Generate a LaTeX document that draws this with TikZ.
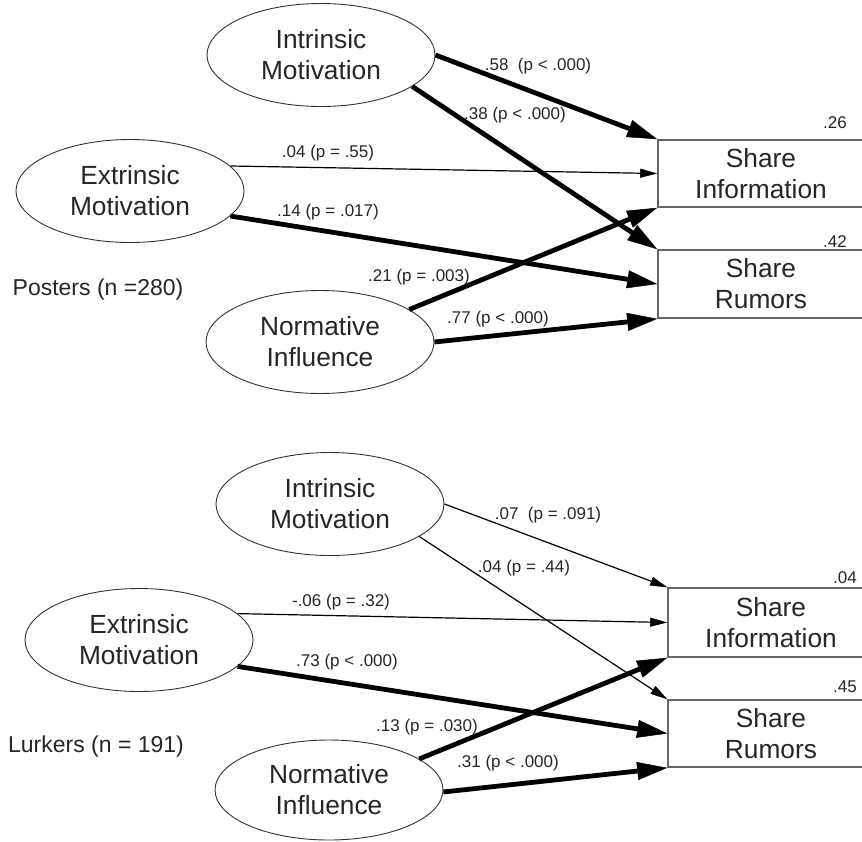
\documentclass[tikz,border=0pt]{standalone}
\usepackage{fontspec}
\setmainfont{Liberation Sans}
\usetikzlibrary{arrows.meta,shapes.geometric}
\begin{document}
\begin{tikzpicture}[x=1pt,y=-1pt,
  latent/.style={ellipse,draw=black!80,line width=0.9pt,text=black!85,align=center,
    font=\fontsize{26.3}{31}\selectfont,inner sep=0pt,minimum width=228pt,minimum height=103pt},
  obs/.style={rectangle,draw=black!60,line width=1.6pt,text=black!85,align=center,
    font=\fontsize{26.3}{31}\selectfont,minimum width=206pt,inner sep=0pt},
  lbl/.style={text=black!85,font=\fontsize{17}{19}\selectfont,inner sep=0pt},
  grp/.style={text=black!85,font=\fontsize{23}{26}\selectfont,inner sep=0pt},
  strong/.style={line width=4.8pt,-{Triangle[length=30pt,width=18pt,line width=0.5pt]}},
  weak/.style={line width=1.2pt,-{Triangle[length=17pt,width=9pt,line width=0.5pt]}},
]
\useasboundingbox (0,0) rectangle (862,841);
\fill[white] (0,0) rectangle (862,841);

% ---------- Posters ----------
\node[latent] (i1) at (321,55) {Intrinsic\\Motivation};
\node[latent] (e1) at (130,191) {Extrinsic\\Motivation};
\node[latent] (n1) at (320,342) {Normative\\Influence};
\node[obs,minimum height=67pt] (si1) at (761,173.5) {Share\\Information};
\node[obs,minimum height=68pt] (sr1) at (761,284) {Share\\Rumors};

\draw[strong] (i1.0) -- (si1.north west);
\draw[strong] (i1.-19) -- (sr1.north west);
\draw[weak] (e1.14) -- (si1.west);
\draw[strong] (e1.-14) -- (sr1.west);
\draw[strong] (n1.20) -- (si1.south west);
\draw[strong] (n1.0) -- (sr1.south west);

\node[lbl] (l11) at (538,66) {.58~~(p < .000)};
\node[lbl] (l12) at (515,115) {.38 (p < .000)};
\node[lbl] (l13) at (328,153) {.04 (p = .55)};
\node[lbl] (l14) at (328,212) {.14 (p = .017)};
\node[lbl] (l15) at (419,277) {.21 (p = .003)};
\node[lbl] (l16) at (498,319) {.77 (p < .000)};
\node[lbl] (r11) at (835,123) {.26};
\node[lbl] (r12) at (835,242) {.42};
\node[grp] (g1) at (98,290) {Posters (n =280)};

% ---------- Lurkers ----------
\node[latent] (i2) at (330,504) {Intrinsic\\Motivation};
\node[latent] (e2) at (139,640) {Extrinsic\\Motivation};
\node[latent,minimum height=100pt] (n2) at (329,790) {Normative\\Influence};
\node[obs,minimum height=69pt] (si2) at (771,622.5) {Share\\Information};
\node[obs,minimum height=67pt] (sr2) at (771,733.5) {Share\\Rumors};

\draw[weak] (i2.0) -- (si2.north west);
\draw[weak] (i2.-20) -- (sr2.north west);
\draw[weak] (e2.15) -- (si2.west);
\draw[strong] (e2.-15) -- (sr2.west);
\draw[strong] (n2.19) -- (si2.south west);
\draw[strong] (n2.-1) -- (sr2.south west);

\node[lbl] (l21) at (548,515) {.07~~(p = .091)};
\node[lbl] (l22) at (524,568) {.04 (p = .44)};
\node[lbl] (l23) at (341,602) {-.06 (p = .32)};
\node[lbl] (l24) at (347,662) {.73 (p < .000)};
\node[lbl] (l25) at (427,727) {.13 (p = .030)};
\node[lbl] (l26) at (508,763) {.31 (p < .000)};
\node[lbl] (r21) at (845,578) {.04};
\node[lbl] (r22) at (845,687) {.45};
\node[grp] (g2) at (96,747) {Lurkers (n = 191)};
\end{tikzpicture}
\end{document}
